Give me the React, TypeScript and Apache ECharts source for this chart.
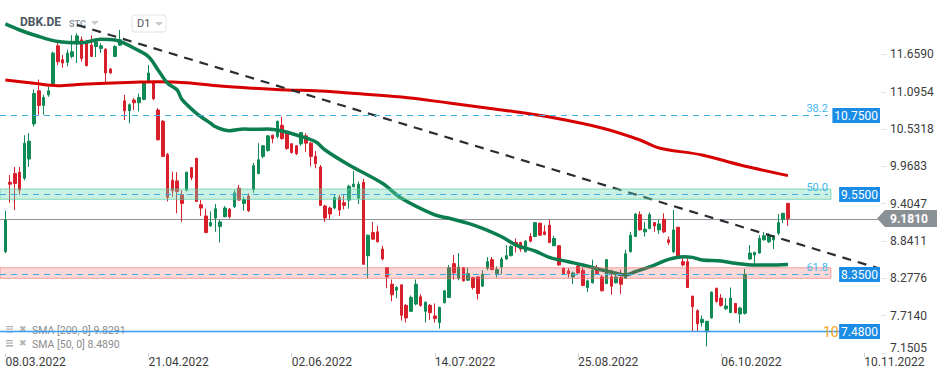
import React, { useEffect, useRef } from 'react';
import * as echarts from 'echarts';

// [open, close, low, high] per trading day
const candles: number[][] = [
  [8.68, 9.16, 8.66, 9.3], [9.73, 9.7, 9.42, 9.84], [9.86, 9.71, 9.31, 9.96], [9.88, 9.61, 9.54, 9.96],
  [9.79, 10.32, 9.76, 10.44], [10.08, 10.35, 9.96, 10.47], [10.61, 11.07, 10.57, 11.13], [11.11, 10.89, 10.75, 11.28],
  [10.89, 11.01, 10.75, 11.05], [11.05, 11.11, 11.02, 11.17], [11.22, 11.68, 11.2, 11.7], [11.79, 11.55, 11.5, 11.83],
  [11.58, 11.53, 11.46, 11.65], [11.54, 11.68, 11.48, 11.73], [11.63, 11.7, 11.6, 11.95], [11.82, 11.94, 11.53, 11.98],
  [11.88, 11.6, 11.55, 11.93], [11.84, 11.49, 11.48, 11.88], [11.8, 11.63, 11.62, 11.95], [11.78, 11.85, 11.62, 11.9],
  [11.75, 11.79, 11.68, 11.83], [11.74, 11.38, 11.22, 11.75], [11.44, 11.38, 11.37, 11.45], [11.63, 11.78, 11.62, 11.8],
  [11.8, 11.88, 11.79, 12.03], [10.96, 10.81, 10.67, 11.05], [10.81, 10.9, 10.62, 10.92], [10.97, 10.93, 10.82, 11.0],
  [10.93, 11.01, 10.8, 11.07], [10.98, 11.23, 10.97, 11.25], [11.26, 11.38, 11.25, 11.5], [11.25, 10.99, 10.97, 11.27],
  [10.82, 10.37, 10.36, 10.85], [10.65, 10.12, 10.11, 10.67], [10.15, 9.5, 9.44, 10.17], [9.76, 9.6, 9.51, 9.89],
  [9.75, 9.59, 9.26, 9.88], [9.54, 9.41, 9.13, 9.61], [9.61, 9.88, 9.59, 9.89], [9.95, 9.8, 9.76, 9.96],
  [10.09, 9.44, 9.43, 10.1], [9.39, 9.34, 9.22, 9.46], [9.22, 8.97, 8.96, 9.33], [9.07, 9.12, 9.06, 9.29],
  [9.19, 9.33, 8.98, 9.4], [9.06, 9.13, 8.82, 9.16], [9.21, 9.34, 9.2, 9.37], [9.32, 9.21, 9.18, 9.34],
  [9.36, 9.57, 9.34, 9.61], [9.64, 9.46, 9.45, 9.69], [9.41, 9.47, 9.3, 9.51], [9.52, 9.3, 9.28, 9.56],
  [9.62, 9.98, 9.57, 10.02], [9.86, 10.07, 9.85, 10.32], [10.12, 10.28, 10.09, 10.29], [10.21, 10.43, 10.19, 10.44],
  [10.44, 10.39, 10.32, 10.45], [10.42, 10.65, 10.39, 10.66], [10.59, 10.39, 10.37, 10.72], [10.48, 10.24, 10.22, 10.49],
  [10.31, 10.18, 10.16, 10.32], [10.28, 10.16, 10.14, 10.29], [10.31, 10.48, 10.28, 10.49], [10.43, 10.32, 10.19, 10.47],
  [10.32, 10.12, 9.97, 10.34], [10.12, 10.01, 9.94, 10.2], [9.96, 9.38, 9.37, 9.99], [9.37, 9.19, 9.13, 9.39],
  [9.34, 9.25, 9.17, 9.36], [9.34, 9.5, 9.32, 9.54], [9.5, 9.31, 9.22, 9.54], [9.42, 9.38, 9.32, 9.54],
  [9.46, 9.67, 9.33, 9.69], [9.66, 9.7, 9.66, 9.9], [9.49, 9.7, 9.4, 9.74], [9.73, 8.49, 8.49, 9.78],
  [8.62, 8.93, 8.28, 8.94], [8.97, 8.87, 8.86, 9.13], [8.98, 8.83, 8.82, 9.07], [8.72, 8.57, 8.55, 8.77],
  [8.44, 8.3, 8.13, 8.45], [8.19, 8.03, 7.93, 8.26], [8.1, 8.14, 7.98, 8.16], [8.18, 7.72, 7.64, 8.18],
  [7.87, 7.68, 7.61, 7.89], [7.78, 7.99, 7.77, 8.02], [7.89, 8.19, 7.87, 8.26], [8.0, 7.87, 7.85, 8.04],
  [7.78, 7.92, 7.61, 7.92], [7.87, 7.76, 7.65, 7.89], [7.71, 7.67, 7.61, 7.9], [7.61, 7.84, 7.52, 7.85],
  [7.91, 8.09, 7.9, 8.1], [7.99, 8.44, 7.98, 8.48], [8.5, 8.36, 8.26, 8.63], [8.28, 8.45, 8.25, 8.66],
  [8.44, 8.24, 8.23, 8.45], [8.25, 8.35, 8.24, 8.44], [8.29, 8.14, 8.11, 8.3], [8.3, 8.05, 7.96, 8.31],
  [8.16, 8.34, 8.15, 8.4], [8.43, 8.53, 8.4, 8.6], [8.56, 8.41, 8.4, 8.6], [8.35, 8.41, 8.29, 8.46],
  [8.45, 8.57, 8.34, 8.6], [8.57, 8.62, 8.56, 8.78], [8.62, 8.76, 8.61, 8.78], [8.82, 8.77, 8.67, 8.88],
  [8.82, 8.72, 8.68, 8.83], [8.68, 8.84, 8.67, 8.86], [8.91, 8.84, 8.82, 8.96], [8.91, 9.12, 8.9, 9.13],
  [9.11, 8.93, 8.92, 9.12], [8.98, 8.94, 8.93, 9.08], [9.08, 8.82, 8.81, 9.16], [8.77, 8.88, 8.77, 8.92],
  [8.77, 8.48, 8.47, 8.78], [8.43, 8.34, 8.33, 8.44], [8.39, 8.35, 8.29, 8.43], [8.3, 8.36, 8.19, 8.38],
  [8.46, 8.36, 8.33, 8.48], [8.4, 8.17, 8.16, 8.44], [8.14, 8.24, 8.07, 8.26], [8.21, 8.4, 8.2, 8.56],
  [8.44, 8.35, 8.33, 8.48], [8.3, 8.09, 8.08, 8.33], [8.2, 8.56, 8.19, 8.57], [8.3, 8.16, 8.03, 8.41],
  [8.21, 8.3, 8.2, 8.34], [8.29, 8.19, 8.04, 8.41], [8.28, 8.65, 8.28, 8.71], [8.68, 8.93, 8.67, 8.98],
  [8.91, 9.25, 8.91, 9.26], [9.24, 9.01, 9.0, 9.29], [8.98, 9.02, 8.91, 9.13], [9.03, 9.24, 9.02, 9.27],
  [9.12, 9.07, 8.98, 9.13], [9.01, 9.1, 8.95, 9.16], [9.17, 8.98, 8.96, 9.26], [8.86, 8.82, 8.78, 8.91],
  [8.68, 9.01, 8.66, 9.31], [9.05, 8.62, 8.62, 9.05], [8.53, 8.48, 8.46, 8.63], [8.53, 8.14, 8.14, 8.58],
  [8.01, 7.85, 7.47, 8.01], [7.79, 7.59, 7.47, 7.81], [7.61, 7.66, 7.55, 7.72], [7.47, 7.63, 7.25, 7.63],
  [7.68, 8.07, 7.67, 8.08], [8.13, 7.93, 7.91, 8.13], [7.98, 7.87, 7.85, 8.04], [7.82, 7.86, 7.8, 7.98],
  [7.76, 7.98, 7.76, 8.14], [7.9, 7.76, 7.75, 7.9], [7.74, 7.83, 7.6, 7.85], [7.75, 8.34, 7.73, 8.42],
  [8.57, 8.66, 8.56, 8.78], [8.63, 8.67, 8.49, 8.68], [8.66, 8.88, 8.65, 8.93], [8.86, 8.92, 8.85, 8.98],
  [8.83, 8.93, 8.81, 8.96], [8.86, 8.92, 8.72, 8.93], [8.96, 9.12, 8.93, 9.25], [9.17, 9.26, 9.11, 9.27],
  [9.41, 9.181, 9.07, 9.42],
];

// SMA readings: [bar index, value]
const sma200Points: number[][] = [
  [0, 11.274], [6, 11.224], [11, 11.188], [16, 11.209], [21, 11.224], [27, 11.239], [32, 11.248],
  [38, 11.233], [45, 11.183], [52, 11.149], [59, 11.123], [65, 11.112], [72, 11.077], [83, 11.017],
  [93, 10.926], [104, 10.821], [114, 10.715], [125, 10.549], [133, 10.368], [137, 10.247],
  [146, 10.141], [154, 9.99], [164, 9.829],
];
const sma50Points: number[][] = [
  [0, 12.12], [3, 12.029], [6, 11.954], [11, 11.855], [16, 11.837], [20, 11.889], [23, 11.878],
  [25, 11.828], [27, 11.753], [30, 11.626], [32, 11.425], [34, 11.224], [36, 11.123], [37, 10.98],
  [40, 10.771], [41, 10.719], [43, 10.62], [44, 10.568], [47, 10.508], [50, 10.534], [52, 10.529],
  [55, 10.534], [58, 10.503], [61, 10.443], [65, 10.342], [67, 10.216], [72, 9.99], [79, 9.713],
  [83, 9.487], [90, 9.235], [93, 9.185], [97, 9.109], [100, 9.034], [104, 8.907], [107, 8.781],
  [111, 8.691], [114, 8.596], [118, 8.529], [121, 8.479], [125, 8.404], [128, 8.354], [130, 8.328],
  [132, 8.378], [136, 8.479], [139, 8.565], [142, 8.605], [144, 8.595], [146, 8.555], [150, 8.54],
  [153, 8.505], [157, 8.479], [160, 8.479], [164, 8.489],
];
const trendLine: number[][] = [[15, 12.106], [183, 8.429]];

const fibRatios = ['38.2', '50.0', '61.8', '100'];
const fibPrices = [10.75, 9.55, 8.35, 7.48];
const zoneBands: number[][] = [[9.627, 9.472], [8.438, 8.278]];
const lastPrice = 9.181;
const sma200Last = 9.8291;
const sma50Last = 8.489;

const xTickLabels = ['08.03.2022', '21.04.2022', '02.06.2022', '14.07.2022', '25.08.2022', '06.10.2022', '10.11.2022'];
const yTickValues = [7.1505, 7.714, 8.2776, 8.8411, 9.4047, 9.9683, 10.5318, 11.0954, 11.659];

const holidays = ['2022-04-15', '2022-04-18'];
const firstDay = '2022-03-08';
const barCount = 184;

function buildCategories(): string[] {
  const out: string[] = [];
  const d = new Date(firstDay + 'T12:00:00Z');
  while (out.length < barCount) {
    const wd = d.getUTCDay();
    const iso = d.toISOString().slice(0, 10);
    if (wd !== 0 && wd !== 6 && !holidays.includes(iso)) {
      out.push(`${iso.slice(8, 10)}.${iso.slice(5, 7)}.${iso.slice(0, 4)}`);
    }
    d.setUTCDate(d.getUTCDate() + 1);
  }
  return out;
}

const GREEN = '#0f8a55';
const RED = '#d81f2c';
const FONT = 'Roboto';
const annotEndIdx = 173;

export default function App() {
  const ref = useRef<HTMLDivElement>(null);
  useEffect(() => {
    document.body.style.margin = '0';
    if (!ref.current) return;
    const chart = echarts.init(ref.current, null, { renderer: 'svg' });
    const categories = buildCategories();

    const option: any = {
      animation: false,
      backgroundColor: '#ffffff',
      grid: { left: 3, right: 68, top: 0, bottom: 25, containLabel: false },
      xAxis: {
        type: 'category',
        data: categories,
        boundaryGap: true,
        axisLine: { show: false },
        axisTick: {
          show: true,
          alignWithLabel: true,
          interval: (i: number) => i % 30 === 0,
          length: 4,
          lineStyle: { color: '#d0d0d0' },
        },
        axisLabel: {
          interval: (i: number) => i % 30 === 0,
          formatter: (_v: string, i: number) => xTickLabels[Math.round(i / 30)] ?? '',
          align: 'left',
          margin: 3,
          color: '#3c3c3c',
          fontSize: 12,
          fontFamily: FONT,
        },
        splitLine: { show: false },
      },
      yAxis: {
        type: 'value',
        position: 'right',
        min: 7.1505,
        max: 12.482,
        scale: true,
        axisLine: { show: false },
        splitLine: { show: false },
        axisTick: {
          show: true,
          customValues: yTickValues,
          length: 5,
          lineStyle: { color: '#e0e0e0' },
        },
        axisLabel: {
          customValues: yTickValues,
          margin: 9,
          color: '#3c3c3c',
          fontSize: 12,
          fontFamily: FONT,
          formatter: (v: number) =>
            Math.abs(v - yTickValues[0]) < 1e-6 ? `{low|${v.toFixed(4)}}` : v.toFixed(4),
          rich: { low: { padding: [0, 0, 10, 0], fontSize: 12, fontFamily: FONT, color: '#3c3c3c' } },
        },
      },
      series: [
        {
          type: 'custom',
          name: 'priceLine',
          z: 1,
          silent: true,
          clip: false,
          data: [[0, lastPrice]],
          encode: { x: 0, y: 1 },
          renderItem: (params: any, api: any) => {
            const cs = params.coordSys;
            const y = Math.round(api.coord([0, api.value(1)])[1]) + 0.5;
            return {
              type: 'line',
              shape: { x1: cs.x - 3, y1: y, x2: cs.x + cs.width - 3, y2: y },
              style: { stroke: '#8f9498', lineWidth: 1 },
            };
          },
        },
        {
          type: 'candlestick',
          name: 'DBK.DE',
          z: 2,
          barWidth: 3,
          data: candles.map((c) => [c[0], c[1], c[2], c[3]]),
          itemStyle: { color: GREEN, color0: RED, borderColor: GREEN, borderColor0: RED, borderWidth: 1 },
        },
        {
          type: 'line',
          name: 'SMA 200',
          z: 3,
          data: sma200Points,
          showSymbol: false,
          smooth: 0.35,
          lineStyle: { color: '#d60000', width: 3 },
        },
        {
          type: 'line',
          name: 'SMA 50',
          z: 3,
          data: sma50Points,
          showSymbol: false,
          smooth: 0.35,
          lineStyle: { color: '#0a7e4f', width: 3.5 },
        },
        {
          type: 'line',
          name: 'trend',
          z: 4,
          data: trendLine,
          showSymbol: false,
          lineStyle: { color: '#2a2e33', width: 2.2, type: [9, 7] },
        },
        {
          type: 'custom',
          name: 'zones',
          z: 5,
          silent: true,
          clip: false,
          data: zoneBands.map((b) => [annotEndIdx, b[0], b[1]]),
          encode: { x: 0, y: [1, 2] },
          renderItem: (params: any, api: any) => {
            const cs = params.coordSys;
            const p1 = api.coord([annotEndIdx, api.value(1)]);
            const p2 = api.coord([annotEndIdx, api.value(2)]);
            const left = cs.x - 3;
            const fills = ['rgba(110,215,175,0.36)', 'rgba(240,100,100,0.25)'];
            const strokes = ['rgba(80,200,155,0.65)', 'rgba(240,110,110,0.6)'];
            const i = params.dataIndex;
            return {
              type: 'rect',
              shape: { x: left, y: p1[1], width: p1[0] - left, height: p2[1] - p1[1] },
              style: { fill: fills[i], stroke: strokes[i], lineWidth: 1 },
            };
          },
        },
        {
          type: 'custom',
          name: 'fibo',
          z: 6,
          silent: true,
          clip: false,
          data: fibPrices.map((p, i) => [annotEndIdx, p, i]),
          encode: { x: 0, y: 1 },
          renderItem: (params: any, api: any) => {
            const cs = params.coordSys;
            const i = api.value(2);
            const price = api.value(1);
            const pt = api.coord([annotEndIdx, price]);
            const left = cs.x - 3;
            const right = cs.x + cs.width - 1;
            const y = Math.round(pt[1]) + 0.5;
            const children: any[] = [];
            if (i < 3) {
              children.push({
                type: 'line',
                shape: { x1: left, y1: y, x2: pt[0] - 3, y2: y },
                style: { stroke: '#3aaee6', lineWidth: 1, lineDash: [6, 5] },
              });
              children.push({
                type: 'text',
                style: {
                  text: fibRatios[i], x: pt[0] - 3, y: y - 2, align: 'right', verticalAlign: 'bottom',
                  fill: '#45b5f0', fontSize: 11, fontFamily: FONT,
                },
              });
            } else {
              children.push({
                type: 'line',
                shape: { x1: left, y1: y, x2: right - 40, y2: y },
                style: { stroke: '#3d9be9', lineWidth: 1.5 },
              });
              children.push({
                type: 'text',
                style: {
                  text: fibRatios[i], x: pt[0] - 8, y, align: 'left', verticalAlign: 'middle',
                  fill: '#f5a31a', fontSize: 14, fontFamily: FONT,
                  width: 18, overflow: 'truncate', ellipsis: '',
                },
              });
            }
            children.push({
              type: 'text',
              style: {
                text: price.toFixed(4), x: right, y, align: 'right', verticalAlign: 'middle',
                fill: '#ffffff', backgroundColor: '#1a8ce6', padding: [2, 2, 1, 2],
                fontSize: 12, fontFamily: FONT,
              },
            });
            return { type: 'group', children };
          },
        },
        {
          type: 'custom',
          name: 'priceTag',
          z: 7,
          silent: true,
          clip: false,
          data: [[0, lastPrice]],
          encode: { x: 0, y: 1 },
          renderItem: (params: any, api: any) => {
            const cs = params.coordSys;
            const y = api.coord([0, api.value(1)])[1];
            const x0 = cs.x + cs.width - 4;
            return {
              type: 'group',
              children: [
                {
                  type: 'polygon',
                  shape: { points: [[x0, y], [x0 + 8, y - 8.5], [x0 + 60, y - 8.5], [x0 + 60, y + 8.5], [x0 + 8, y + 8.5]] },
                  style: { fill: '#8a9195' },
                },
                {
                  type: 'text',
                  style: {
                    text: api.value(1).toFixed(4), x: x0 + 13, y: y + 0.5, align: 'left', verticalAlign: 'middle',
                    fill: '#ffffff', fontSize: 12, fontWeight: 'bold', fontFamily: FONT,
                  },
                },
              ],
            };
          },
        },
      ],
      graphic: [
        { type: 'text', left: 20, top: 16, style: { text: 'DBK.DE', fill: '#4b5763', fontSize: 12, fontWeight: 'bold', fontFamily: FONT } },
        { type: 'text', left: 69, top: 19, style: { text: 'STC', fill: '#8d9aa6', fontSize: 9, fontWeight: 'bold', fontFamily: FONT } },
        { type: 'polygon', shape: { points: [[91, 21], [99, 21], [95, 25]] }, style: { fill: '#c6cacd' } },
        { type: 'rect', shape: { x: 132, y: 15, width: 34, height: 17, r: 3 }, style: { fill: '#ffffff', stroke: '#e2e2e2', lineWidth: 1 } },
        { type: 'text', left: 137, top: 18, style: { text: 'D1', fill: '#555555', fontSize: 11, fontFamily: FONT } },
        { type: 'polygon', shape: { points: [[155, 22], [163, 22], [159, 26]] }, style: { fill: '#c6cacd' } },
        { type: 'rect', shape: { x: 6, y: 326, width: 7, height: 1.2 }, style: { fill: '#b0b0b0' } },
        { type: 'rect', shape: { x: 6, y: 328.5, width: 7, height: 1.2 }, style: { fill: '#b0b0b0' } },
        { type: 'rect', shape: { x: 6, y: 331, width: 7, height: 1.6 }, style: { fill: '#b0b0b0' } },
        { type: 'text', left: 19, top: 324, style: { text: '✖', fill: '#b5b5b5', fontSize: 9, fontFamily: 'DejaVu Sans' } },
        { type: 'text', left: 32, top: 325, style: { text: `SMA [200, 0] ${sma200Last.toFixed(4)}`, fill: '#8c8c8c', fontSize: 10.5, fontFamily: FONT } },
        { type: 'rect', shape: { x: 6, y: 340, width: 7, height: 1.2 }, style: { fill: '#b0b0b0' } },
        { type: 'rect', shape: { x: 6, y: 342.5, width: 7, height: 1.2 }, style: { fill: '#b0b0b0' } },
        { type: 'rect', shape: { x: 6, y: 345, width: 7, height: 1.6 }, style: { fill: '#b0b0b0' } },
        { type: 'text', left: 19, top: 338, style: { text: '✖', fill: '#b5b5b5', fontSize: 9, fontFamily: 'DejaVu Sans' } },
        { type: 'text', left: 32, top: 339, style: { text: `SMA [50, 0] ${sma50Last.toFixed(4)}`, fill: '#8c8c8c', fontSize: 10.5, fontFamily: FONT } },
      ],
    };
    chart.setOption(option);
    return () => chart.dispose();
  }, []);
  return <div ref={ref} style={{ width: 949, height: 378 }} />;
}
